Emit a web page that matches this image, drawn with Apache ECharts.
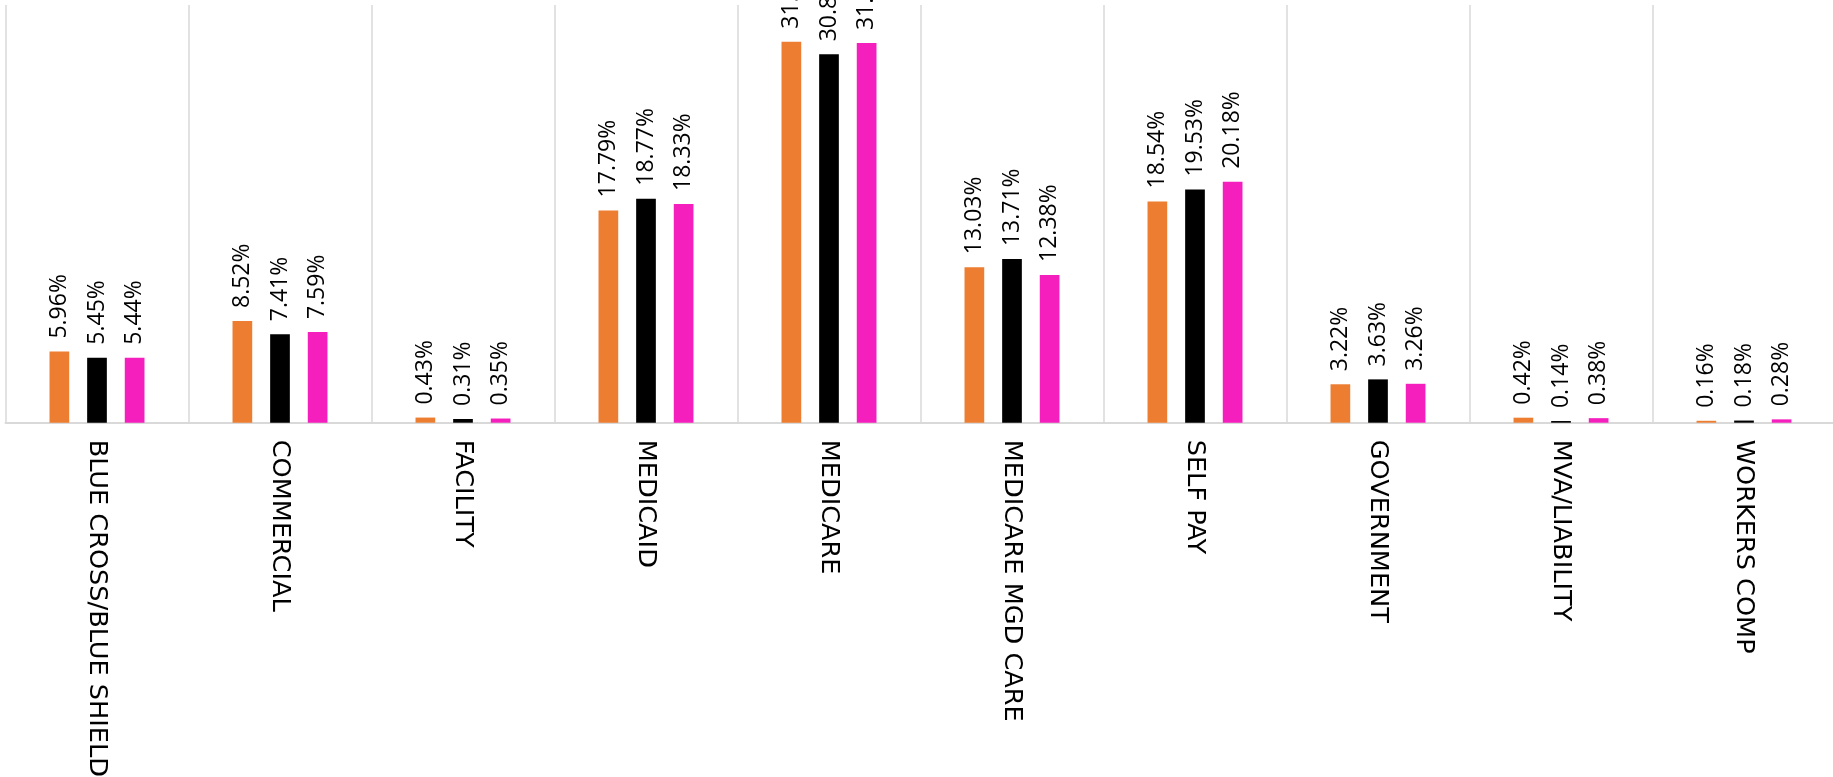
<!DOCTYPE html>
<html><head><meta charset="utf-8">
<script src="https://cdn.jsdelivr.net/npm/echarts@6/dist/echarts.min.js"></script>
<style>html,body{margin:0;padding:0;background:#fff}#c{width:1833px;height:777px}</style>
</head><body><div id="c"></div>
<script>
const categories = ['BLUE CROSS/BLUE SHIELD','COMMERCIAL','FACILITY','MEDICAID','MEDICARE','MEDICARE MGD CARE','SELF PAY','GOVERNMENT','MVA/LIABILITY','WORKERS COMP'];
const seriesA = [5.96, 8.52, 0.43, 17.79, 31.93, 13.03, 18.54, 3.22, 0.42, 0.16];
const seriesB = [5.45, 7.41, 0.31, 18.77, 30.87, 13.71, 19.53, 3.63, 0.14, 0.18];
const seriesC = [5.44, 7.59, 0.35, 18.33, 31.81, 12.38, 20.18, 3.26, 0.38, 0.28];
const colors = ['#ED7D31', '#000000', '#F41FBD'];

const chart = echarts.init(document.getElementById('c'));
const mk = (name, data, color) => ({
  name, type: 'bar', data, barWidth: 19.7, barGap: '91%',
  itemStyle: { color },
  label: {
    show: true, position: 'top', rotate: 90, align: 'left', verticalAlign: 'middle',
    distance: 13, fontSize: 23, fontFamily: 'Open Sans', color: '#000',
    formatter: p => p.value.toFixed(2) + '%'
  }
});
chart.setOption({
  animation: false,
  grid: { left: 5.5, width: 1830, top: 5, height: 417.7, containLabel: false, outerBoundsMode: 'none' },
  xAxis: {
    type: 'category', data: categories,
    axisLine: { show: true, lineStyle: { color: '#d9d9d9', width: 2 } },
    axisTick: { show: false },
    splitLine: { show: true, interval: 0, lineStyle: { color: '#d9d9d9', width: 1.5 } },
    axisLabel: { interval: 0, rotate: -90, margin: 17, fontSize: 25.6, fontFamily: 'DejaVu Sans', color: '#000' }
  },
  yAxis: { type: 'value', min: 0, max: 35, show: false, splitLine: { show: false } },
  series: [mk('A', seriesA, colors[0]), mk('B', seriesB, colors[1]), mk('C', seriesC, colors[2])]
});
</script></body></html>
